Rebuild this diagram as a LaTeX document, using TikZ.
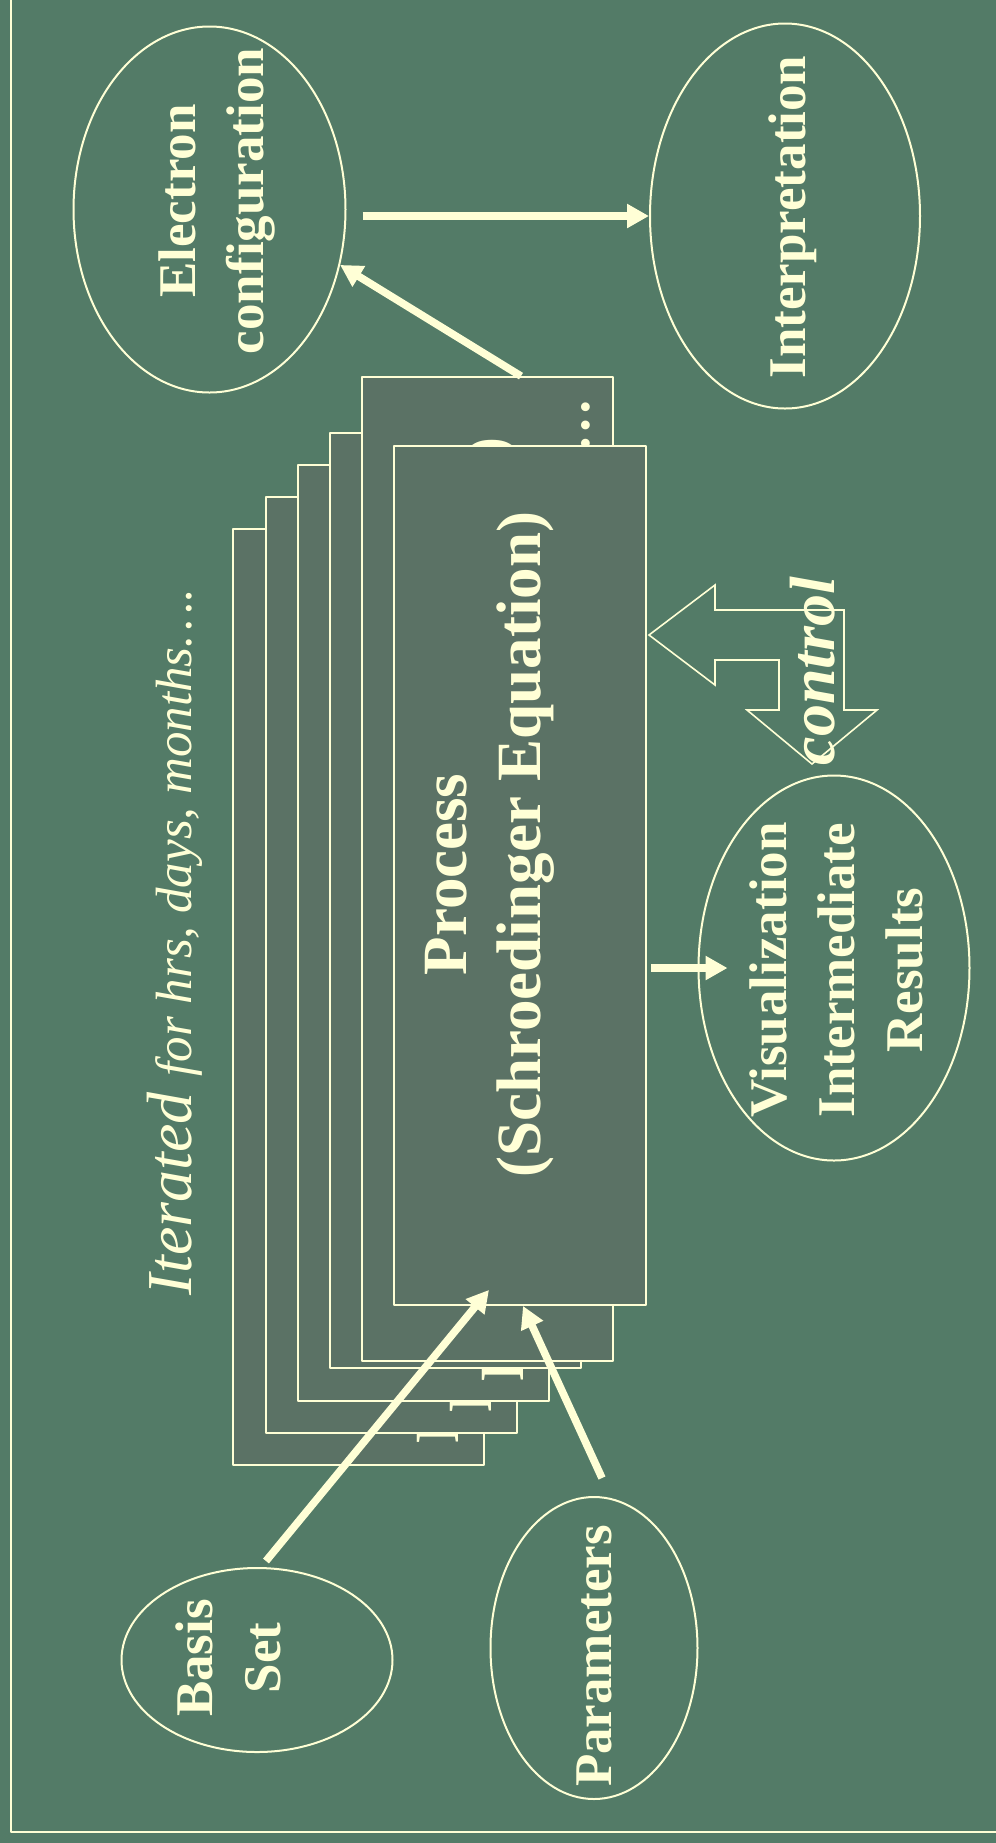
\documentclass[tikz,border=0pt]{standalone}
\usepackage{fontspec}
\setmainfont{Liberation Serif}
\usetikzlibrary{shapes.geometric,arrows.meta}
\definecolor{board}{RGB}{83,123,103}
\definecolor{sheetfill}{RGB}{91,114,101}
\definecolor{chalk}{RGB}{255,255,214}
\tikzset{
	bubble/.style={draw=chalk, line width=1pt, ellipse, inner sep=0pt},
	lbl/.style={text=chalk, rotate=90, inner sep=0pt, align=center, font=\bfseries\fontsize{26.5}{34}\selectfont},
	sheet/.style={draw=chalk, fill=sheetfill, line width=0.9pt, inner sep=0pt},
	runtxt/.style={text=chalk, rotate=90, inner sep=0pt, font=\bfseries\fontsize{31.5}{37}\selectfont},
	conn/.style={draw=chalk, line width=3.8pt, -{Triangle[length=11pt,width=11.5pt]}},
}
\begin{document}
\begin{tikzpicture}[x=0.5pt, y=-0.5pt, line join=round]
	\fill[board] (0,0) rectangle (996,1843);
	\useasboundingbox (0,0) rectangle (996,1843);
	\draw[chalk, line width=1pt] (11,0) -- (11,1832) -- (996,1832);

	% stack of runs, back to front
	\foreach \i/\x/\y/\gy in {1/233/529/1444, 2/266/497/1413, 3/298/465/1382}{
		\draw[sheet] (\x,\y) rectangle ++(251,936);
		\node[runtxt, anchor=base west] (run\i) at (\x+225,\gy) {Process};
	}
	\draw[sheet] (330,433) rectangle ++(251,935);
	\node[sheet, minimum width=125.5pt, minimum height=492pt] (sheet5) at (487.5,869) {};
	\node[runtxt, anchor=base east] (run5) at (507,437) {(Schroedinger Equation)};
	\node[runtxt, anchor=base east, font=\bfseries\fontsize{27}{27}\selectfont] (dots5) at (589,398) {…};
	\node[sheet, minimum width=126pt, minimum height=429.5pt] (proc) at (520,875.5) {};
	\node[runtxt, align=center] (proc-txt) at (490,844.5) {Process\hspace*{0.95em}\\(Schroedinger Equation)};

	% ellipses
	\node[bubble, minimum width=136pt, minimum height=183pt] (elec) at (209.5,209.5) {};
	\node[lbl] (elec-txt) at (217,201) {Electron\\configuration};
	\node[bubble, minimum width=135pt, minimum height=192.5pt] (interp) at (785,216) {};
	\node[lbl, anchor=base] (interp-txt) at (805,217) {Interpretation};
	\node[bubble, minimum width=135.5pt, minimum height=192.5pt] (visual) at (834,968) {};
	\node[lbl] (visual-txt) at (836,970) {Visualization\\Intermediate\\Results};
	\node[bubble, minimum width=135.5pt, minimum height=92pt] (basis) at (257,1660) {};
	\node[lbl] (basis-txt) at (228,1658) {Basis\\Set};
	\node[bubble, minimum width=103.5pt, minimum height=151pt] (params) at (594,1648) {};
	\node[lbl, anchor=base] (params-txt) at (611,1656) {Parameters};

	\node[text=chalk, rotate=90, inner sep=0pt, anchor=base] (iter) at (191,942)
		{\itshape\fontsize{32}{32}\selectfont Iterated \fontsize{25.5}{30}\selectfont for hrs, days, months….};

	% control loop
	\draw[chalk, line width=0.8pt, line join=miter] (649,635) -- (715,585) -- (715,610) -- (844,610) -- (844,710) -- (877,710)
		-- (812,764) -- (747,710) -- (779,710) -- (779,660) -- (715,660) -- (715,685) -- cycle;
	\node[text=chalk, rotate=90, inner sep=0pt, anchor=base, font=\bfseries\itshape\fontsize{32}{32}\selectfont] (ctrl) at (834,671) {control};

	% connectors
	\coordinate (vin) at ([xshift=15pt]visual.west);
	\draw[conn, shorten <=8pt] (elec.east |- interp) -- (interp);
	\draw[conn] ([xshift=16.75pt]sheet5.north) -- (elec.-23);
	\draw[conn, shorten <=2pt] (proc.east |- vin) -- (vin);
	\draw[conn] ([shift={(4.5pt,3pt)}]basis.north) -- ([shift={(-15.5pt,8pt)}]proc.south);
	\draw[conn] ([shift={(4pt,9pt)}]params.north) -- ([xshift=1.5pt]proc.south);
\end{tikzpicture}
\end{document}
